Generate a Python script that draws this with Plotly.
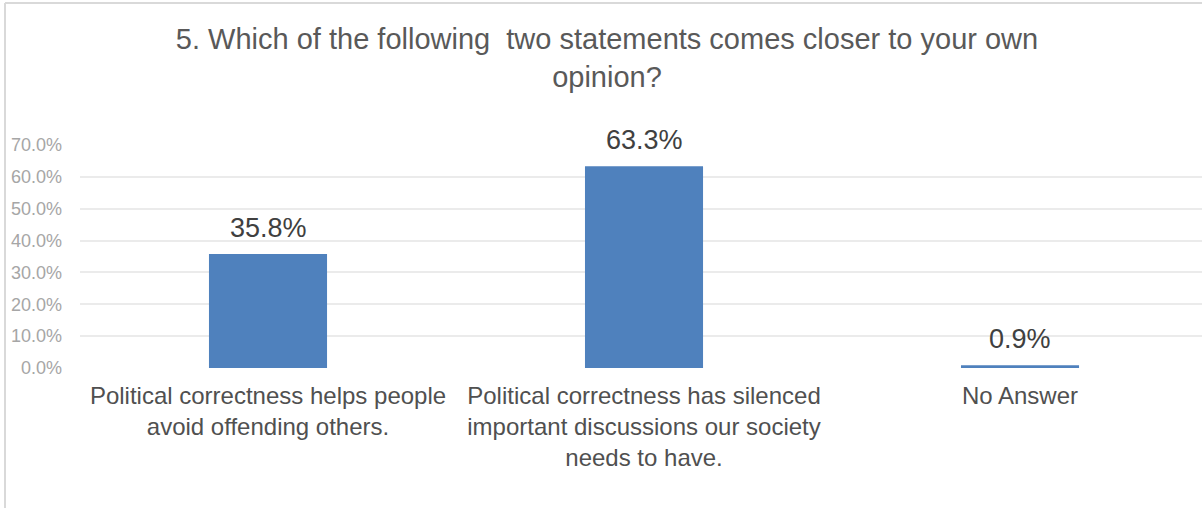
import plotly.graph_objects as go

categories = [
    "Political correctness helps people<br>avoid offending others.",
    "Political correctness has silenced<br>important discussions our society<br>needs to have.",
    "No Answer",
]
values = [35.8, 63.3, 0.9]
labels = ["35.8%", "63.3%", "0.9%"]
tick_vals = [0, 10, 20, 30, 40, 50, 60, 70]
tick_text = ["0.0%", "10.0%", "20.0%", "30.0%", "40.0%", "50.0%", "60.0%", "70.0%"]
title_text = "5. Which of the following  two statements comes closer to your own<br>opinion?"

W, H = 1202, 508
ml, mr, mt, mb = 80, 0, 145, 140
pw = W - ml - mr
ph = H - mt - mb
FONT = "Liberation Sans, Arial, sans-serif"

fig = go.Figure(go.Bar(
    x=categories, y=values,
    marker=dict(color="#4F81BD", line=dict(width=0)),
    width=0.314,
))

for c, v, t in zip(categories, values, labels):
    fig.add_annotation(x=c, y=v, text=t, showarrow=False, yanchor="bottom",
                       yshift=9, font=dict(size=27, color="#404040", family=FONT))

fig.update_layout(
    width=W, height=H,
    margin=dict(l=ml, r=mr, t=mt, b=mb),
    paper_bgcolor="white", plot_bgcolor="white",
    font=dict(family=FONT, color="#404040"),
    title=dict(text=title_text, x=0.505, xanchor="center", y=0.903, yanchor="top",
               font=dict(size=29, color="#595959")),
    showlegend=False,
    xaxis=dict(tickfont=dict(size=24, color="#505050"), showgrid=False,
               showline=False, ticks="", range=[-0.5, 2.484],
               ticklabelstandoff=11),
    yaxis=dict(range=[0, 70], tickvals=tick_vals, ticktext=tick_text,
               tickfont=dict(size=18, color="#A6A6A6"), showgrid=True,
               gridcolor="#EBEBEB", gridwidth=2, zeroline=False, showline=False,
               ticklabelstandoff=17),
    shapes=[
        dict(type="line", xref="paper", yref="paper",
             x0=(5 - ml) / pw, x1=(5 - ml) / pw, y0=(H - mb - 3) / ph, y1=-(mb + 5) / ph,
             line=dict(color="#D9D9D9", width=2)),
        dict(type="line", xref="paper", yref="paper",
             x0=(5 - ml) / pw, x1=(W + 5 - ml) / pw, y0=(H - mb - 3) / ph, y1=(H - mb - 3) / ph,
             line=dict(color="#D9D9D9", width=2)),
    ],
)

fig.write_html("out.html", config={"displayModeBar": False},
               post_script="document.body.style.margin='0';")
